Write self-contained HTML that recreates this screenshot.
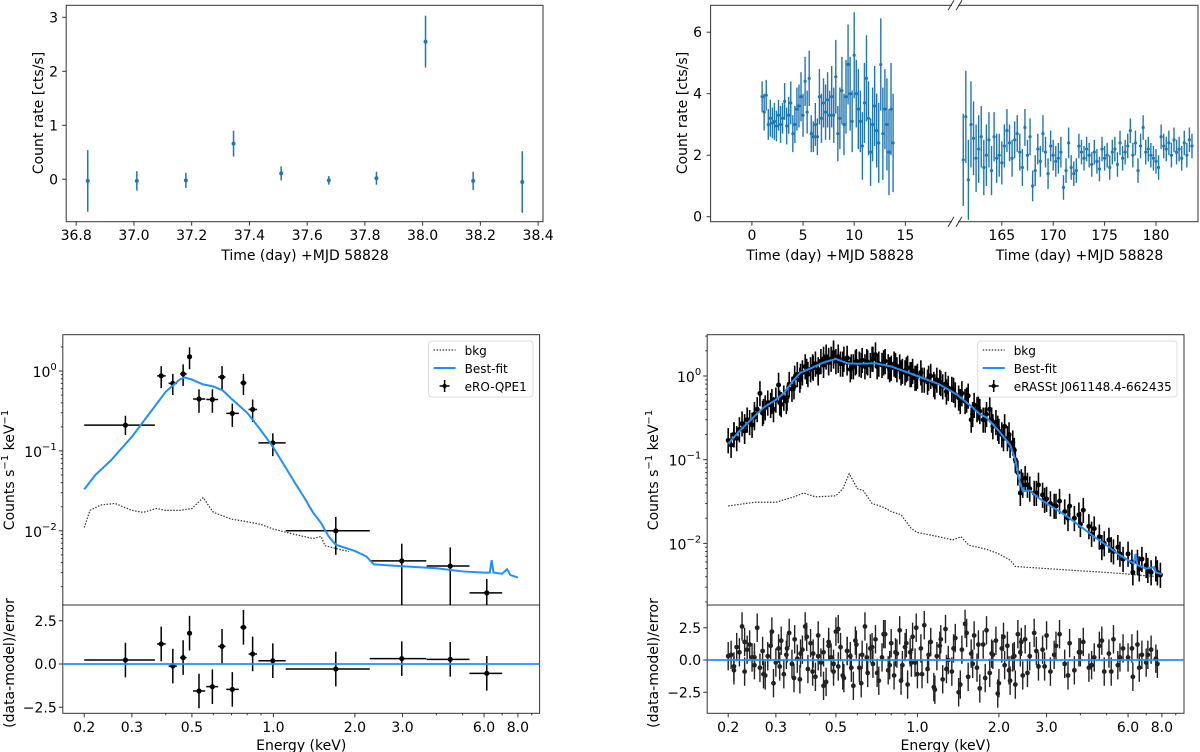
<!DOCTYPE html>
<html><head><meta charset="utf-8"><title>eRO-QPE light curves and spectra</title>
<style>
html,body{margin:0;padding:0;background:#fff;}
svg{display:block;font-family:"DejaVu Sans","Liberation Sans",sans-serif;}
</style></head>
<body>
<svg id="fig" width="1200" height="752" viewBox="0 0 1200 752" xmlns="http://www.w3.org/2000/svg">
<defs>
<clipPath id="clipC"><rect x="62.8" y="334.7" width="476.8" height="270.3"/></clipPath>
<clipPath id="clipD"><rect x="707.2" y="334.7" width="476.8" height="270.3"/></clipPath>
<clipPath id="clipCr"><rect x="62.8" y="605" width="476.8" height="108.3"/></clipPath>
<clipPath id="clipDr"><rect x="707.2" y="605" width="476.8" height="108.3"/></clipPath>
</defs>
</svg>
<script>
// ---------- Panel A data (light curve, eRO-QPE1 flare) ----------
const aTime = [36.84,37.01,37.18,37.345,37.51,37.675,37.84,38.01,38.175,38.345];
const aRate = [-0.03,-0.03,-0.02,0.66,0.11,-0.02,0.02,2.55,-0.03,-0.05];
const aErr  = [0.57,0.18,0.14,0.24,0.13,0.08,0.12,0.48,0.17,0.57];
const aXTicks = [36.8,37.0,37.2,37.4,37.6,37.8,38.0,38.2,38.4];
const aYTicks = [0,1,2,3];

// ---------- Panel B data (long light curve, broken axis) ----------
const bTimeL = [1.0,1.2,1.4,1.6,1.8,2.0,2.2,2.4,2.6,2.8,3.0,3.2,3.4,3.6,3.8,4.0,4.2,4.4,4.6,4.8,5.0,5.2,5.4,5.6,5.8,6.0,6.2,6.4,6.6,6.8,7.0,7.2,7.4,7.6,7.8,8.0,8.2,8.4,8.6,8.8,9.0,9.2,9.4,9.6,9.8,10.0,10.2,10.4,10.6,10.8,11.0,11.2,11.4,11.6,11.8,12.0,12.2,12.4,12.6,12.8,13.0,13.2,13.4,13.6,13.8];
const bRateL = [3.9,3.4,3.95,3.0,3.2,3.05,3.1,2.95,3.3,3.0,3.2,3.75,2.95,3.3,3.7,2.7,3.0,3.5,3.6,3.9,3.3,4.4,3.4,4.5,2.7,2.6,3.0,2.6,3.9,3.2,3.7,3.4,3.8,3.3,3.9,3.3,4.55,2.7,3.2,4.1,3.0,3.9,4.95,4.0,3.1,5.25,4.0,3.5,3.1,2.3,3.7,4.5,3.2,2.1,3.0,3.6,2.8,2.4,4.95,2.7,3.5,3.0,2.1,3.5,2.4];
const bErrL  = [0.5,0.6,0.5,0.5,0.6,0.5,0.6,0.5,0.5,0.6,0.5,0.6,0.6,0.6,0.7,0.6,0.6,0.7,0.7,0.8,0.7,0.8,0.7,0.9,0.6,0.5,0.7,0.6,0.9,0.8,0.8,0.9,0.9,0.8,1.0,0.9,1.2,0.9,1.0,1.1,1.0,1.2,1.3,1.2,1.0,1.4,1.1,1.3,1.0,1.1,1.3,1.4,1.2,1.1,1.2,1.3,1.2,1.3,1.5,1.5,1.3,1.5,1.4,1.5,1.6];
const bTimeR = [161.25,161.5,161.75,162.0,162.25,162.5,162.75,163.0,163.25,163.5,163.75,164.0,164.25,164.5,164.75,165.0,165.25,165.5,165.75,166.0,166.25,166.5,166.75,167.0,167.25,167.5,167.75,168.0,168.25,168.5,168.75,169.0,169.25,169.5,169.75,170.0,170.25,170.5,170.75,171.0,171.25,171.5,171.75,172.0,172.25,172.5,172.75,173.0,173.25,173.5,173.75,174.0,174.25,174.5,174.75,175.0,175.25,175.5,175.75,176.0,176.25,176.5,176.75,177.0,177.25,177.5,177.75,178.0,178.25,178.5,178.75,179.0,179.25,179.5,179.75,180.0,180.25,180.5,180.75,181.0,181.25,181.5,181.75,182.0,182.25,182.5,182.75,183.0,183.25,183.5];
const bRateR = [1.85,3.25,1.2,3.0,2.55,1.9,2.2,2.6,1.6,2.0,2.5,1.5,2.6,1.9,2.0,1.75,2.3,2.8,2.4,1.9,2.5,2.7,2.1,1.6,2.9,2.0,2.6,1.0,1.5,2.2,1.8,2.7,2.1,1.4,2.3,2.0,1.8,1.9,2.1,0.95,1.5,2.4,1.6,1.4,1.5,2.3,2.1,1.9,2.2,2.0,1.7,2.1,1.8,1.55,2.2,1.9,2.0,1.6,2.1,2.2,1.7,2.4,1.9,2.1,2.3,2.8,2.0,2.4,1.5,2.3,2.9,2.1,2.2,2.0,1.9,1.8,1.6,2.6,2.3,2.2,2.4,2.0,2.5,2.1,2.2,1.9,2.4,2.0,2.5,2.3];
const bErrR  = [1.5,1.5,1.3,1.4,1.2,1.1,1.1,1.0,0.9,1.0,0.9,0.8,0.8,0.8,0.7,0.7,0.7,0.7,0.6,0.6,0.6,0.6,0.6,0.6,0.6,0.5,0.6,0.5,0.5,0.5,0.5,0.6,0.5,0.5,0.5,0.5,0.5,0.5,0.5,0.4,0.4,0.5,0.4,0.4,0.4,0.4,0.4,0.4,0.4,0.4,0.4,0.4,0.4,0.4,0.4,0.4,0.4,0.4,0.4,0.4,0.4,0.4,0.4,0.4,0.4,0.4,0.4,0.4,0.4,0.4,0.4,0.4,0.4,0.4,0.4,0.4,0.4,0.4,0.4,0.4,0.4,0.4,0.4,0.4,0.4,0.4,0.4,0.4,0.4,0.4];
const bXTicksL = [0,5,10,15];
const bXTicksR = [165,170,175,180];
const bYTicks = [0,2,4,6];

// ---------- Panel C data (eRO-QPE1 spectrum) ----------
const cE    = [0.284,0.385,0.425,0.464,0.49,0.531,0.595,0.646,0.705,0.775,0.838,0.995,1.70,2.98,4.5,6.14];
const cElo  = [0.2,0.372,0.41,0.452,0.48,0.505,0.565,0.625,0.67,0.755,0.81,0.88,1.11,2.27,3.68,5.3];
const cEhi  = [0.365,0.40,0.44,0.478,0.50,0.56,0.625,0.665,0.745,0.795,0.87,1.11,2.27,3.67,5.3,7.0];
const cVal  = [0.21,0.87,0.70,0.92,1.51,0.446,0.44,0.84,0.295,0.71,0.33,0.126,0.010,0.0042,0.00362,0.00167];
const cVlo  = [0.158,0.61,0.50,0.65,1.05,0.30,0.30,0.58,0.20,0.50,0.23,0.086,0.0050,0.0008,0.0008,0.0008];
const cVhi  = [0.275,1.15,0.92,1.21,1.98,0.59,0.59,1.15,0.39,0.92,0.44,0.166,0.0149,0.0069,0.0062,0.0025];
const cRes  = [0.23,1.16,-0.12,0.37,1.78,-1.56,-1.31,1.02,-1.47,2.12,0.58,0.19,-0.29,0.31,0.27,-0.54];
const cFitE = [0.2,0.22,0.25,0.3,0.35,0.4,0.45,0.47,0.5,0.55,0.6,0.65,0.7,0.8,0.9,1.0,1.1,1.2,1.3,1.4,1.5,1.6,1.7,2.0,2.2,2.35,3,4,5,6,6.3,6.4,6.5,7,7.3,7.5,8];
const cFitV = [0.033,0.05,0.075,0.15,0.3,0.55,0.78,0.83,0.78,0.68,0.64,0.57,0.45,0.3,0.18,0.11,0.065,0.04,0.026,0.017,0.0125,0.0085,0.0067,0.0056,0.0048,0.0038,0.0036,0.0034,0.0031,0.0030,0.0030,0.0043,0.0030,0.0029,0.0033,0.0028,0.0026];
const cBkgE = [0.2,0.21,0.23,0.26,0.3,0.33,0.37,0.4,0.45,0.5,0.55,0.6,0.7,0.8,0.9,1.0,1.2,1.4,1.5,1.55,1.7,1.9];
const cBkgV = [0.011,0.018,0.021,0.022,0.018,0.017,0.019,0.018,0.018,0.019,0.026,0.017,0.014,0.013,0.012,0.0105,0.009,0.008,0.0085,0.0065,0.006,0.0055];

// ---------- Panel D data (eRASSt J061148.4-662435 spectrum) ----------
const dE = [0.20,0.205,0.21,0.215,0.22,0.225,0.23,0.235,0.24,0.245,0.25,0.256,0.262,0.268,0.274,0.28,0.287,0.294,0.30,0.307,0.314,0.321,0.328,0.336,0.344,0.352,0.36,0.368,0.376,0.385,0.394,0.403,0.412,0.42,0.43,0.44,0.45,0.46,0.47,0.48,0.49,0.50,0.51,0.52,0.535,0.55,0.565,0.58,0.595,0.61,0.625,0.64,0.655,0.67,0.685,0.70,0.72,0.74,0.76,0.78,0.80,0.82,0.84,0.86,0.88,0.90,0.92,0.94,0.96,0.98,1.0,1.03,1.06,1.09,1.12,1.15,1.18,1.21,1.24,1.27,1.30,1.34,1.38,1.42,1.46,1.50,1.54,1.58,1.62,1.66,1.70,1.75,1.80,1.85,1.90,1.95,2.0,2.05,2.1,2.15,2.2,2.25,2.3,2.35,2.4,2.45,2.5,2.6,2.7,2.8,2.9,3.0,3.1,3.2,3.35,3.5,3.65,3.8,3.95,4.1,4.3,4.5,4.7,4.9,5.1,5.3,5.5,5.75,6.0,6.25,6.5,6.75,7.0,7.3,7.6,7.9];
const dVal = [0.17,0.15,0.2,0.18,0.23,0.27,0.22,0.3,0.28,0.26,0.35,0.4,0.62,0.36,0.42,0.48,0.45,0.4,0.52,0.78,0.46,0.55,0.5,0.8,0.7,0.95,1.05,0.9,1.1,1.3,1.05,1.2,1.25,1.4,1.1,1.5,1.35,1.7,1.55,1.6,1.9,1.5,1.7,1.4,1.6,1.45,1.2,1.3,1.5,1.4,1.55,1.3,1.45,1.35,1.6,1.8,1.4,1.35,1.5,1.3,1.25,1.4,1.2,1.3,1.15,1.1,1.25,1.05,1.15,0.95,1.0,1.1,0.9,0.85,1.0,0.8,0.9,0.85,0.75,0.8,0.72,0.7,0.6,0.55,0.62,0.5,0.58,0.3,0.45,0.4,0.38,0.3,0.35,0.4,0.25,0.28,0.22,0.2,0.25,0.18,0.15,0.16,0.1,0.07,0.04,0.05,0.06,0.045,0.04,0.05,0.038,0.034,0.03,0.028,0.032,0.024,0.028,0.02,0.022,0.025,0.016,0.015,0.012,0.01,0.011,0.008,0.009,0.0065,0.0075,0.0045,0.006,0.0065,0.0055,0.0045,0.005,0.0042];
const dRes = [0.3,0.4,-0.5,1.0,0.6,2.6,-0.9,0.8,1.2,0.2,-0.4,2.5,-0.6,0.7,-1.2,0.3,1.1,-1.8,-0.2,0.9,1.5,-1.1,0.4,2.1,-0.3,1.6,0.1,-1.5,0.8,2.6,-0.7,1.3,0.5,-1.3,1.9,-0.2,0.6,-1.7,1.4,0.2,-0.9,2.2,-0.5,1.0,-1.4,0.7,0.3,-2.0,1.2,-0.6,0.4,2.6,-1.0,0.9,-0.3,1.6,-1.6,0.2,2.0,-0.8,1.3,-1.2,0.5,2.3,-0.4,1.0,-1.9,0.6,1.8,-0.2,-1.1,0.9,2.7,-0.7,1.4,-2.1,0.3,1.1,-1.5,2.4,0.0,-0.9,1.7,-2.5,0.8,2.8,-1.3,0.5,1.9,-0.6,-2.2,1.2,2.3,-1.0,0.4,1.5,-1.8,0.9,-0.4,1.1,-1.6,0.2,-1.9,2.0,0.6,-1.2,1.6,0.3,2.1,-0.5,0.8,1.9,-0.9,0.4,2.0,-0.3,1.3,-0.8,0.6,1.4,-0.6,0.2,1.1,-0.9,0.5,1.6,-0.4,0.9,0.2,-1.3,1.2,0.4,-0.2,0.8,0.1];
const dE2 = [0.21,0.23,0.25,0.27,0.29,0.31,0.33,0.35,0.37,0.39,0.41,0.43,0.45,0.47,0.49,0.51,0.53,0.55,0.57,0.59,0.62,0.65,0.68,0.71,0.75,0.79,0.83,0.87,0.91,0.95,0.99,1.04,1.1,1.16,1.22,1.28,1.36,1.44,1.52,1.6,1.68,1.78,1.88,1.98,2.08,2.18,2.28,2.42,2.55,2.75,2.95,3.25,3.6,4.0,4.4,4.8,5.2,5.6,6.2,6.6,7.1,7.7];
const dVal2 = [0.2,0.25,0.32,0.38,0.5,0.48,0.55,0.75,1.0,1.15,1.3,1.2,1.6,1.45,1.75,1.55,1.4,1.65,1.3,1.45,1.35,1.5,1.6,1.3,1.45,1.2,1.35,1.1,1.2,1.05,0.95,0.9,0.95,0.75,0.82,0.65,0.68,0.5,0.52,0.35,0.42,0.3,0.3,0.24,0.18,0.2,0.13,0.055,0.05,0.04,0.033,0.028,0.02,0.017,0.013,0.009,0.0085,0.0075,0.006,0.005,0.0048,0.0045];
const dRes2 = [-0.8,1.4,0.2,-1.1,2.2,-0.5,0.9,-1.4,0.5,1.8,-0.9,0.3,-2.0,1.1,-0.3,2.4,-1.2,0.7,-0.6,1.5,-1.8,0.2,1.0,-1.0,2.0,-0.4,0.6,-1.6,1.3,-0.2,2.5,-1.1,0.4,-2.3,1.6,-0.7,0.9,-1.9,2.1,-0.3,1.2,-1.4,0.5,-2.6,1.8,-0.8,0.3,1.4,-1.0,0.7,-0.5,1.1,-1.2,0.6,-0.4,1.5,-0.9,0.2,0.9,-0.6,0.4,-0.3];
const dFitE = [0.2,0.22,0.25,0.27,0.3,0.32,0.35,0.37,0.4,0.45,0.5,0.55,0.6,0.7,0.8,1.0,1.2,1.4,1.6,1.7,1.8,2.0,2.2,2.3,2.37,2.45,2.6,2.8,3.0,3.5,4.0,4.5,5.0,5.5,6.0,6.3,6.4,6.5,7.0,7.5,7.6,8.0];
const dFitV = [0.155,0.22,0.33,0.42,0.52,0.62,0.9,1.1,1.22,1.45,1.6,1.42,1.4,1.42,1.3,1.0,0.8,0.6,0.42,0.35,0.32,0.22,0.15,0.1,0.06,0.042,0.043,0.035,0.03,0.022,0.016,0.012,0.0095,0.0075,0.0063,0.0058,0.0075,0.0055,0.005,0.0052,0.0045,0.0043];
const dBkgE = [0.2,0.25,0.3,0.35,0.38,0.42,0.5,0.53,0.56,0.6,0.63,0.68,0.75,0.8,0.87,0.95,1.0,1.2,1.35,1.45,1.55,1.8,2.0,2.2,2.3,3.0,4,5,6,7,8];
const dBkgV = [0.028,0.031,0.031,0.036,0.040,0.036,0.037,0.045,0.068,0.045,0.043,0.03,0.027,0.024,0.022,0.015,0.0135,0.012,0.011,0.012,0.0095,0.0085,0.0075,0.0063,0.0053,0.0050,0.0047,0.0045,0.0043,0.0041,0.0040];

const eTicks = [0.2,0.3,0.5,1.0,2.0,3.0,6.0,8.0];
const eMinor = [0.4,0.6,0.7,0.8,0.9,4,5,7,9];
const resTicks = [-2.5,0.0,2.5];
const decTicks = [-2,-1,0];

// ---------- helpers ----------
const NS = 'http://www.w3.org/2000/svg';
const fig = document.getElementById('fig');
function mk(tag, attrs, parent){
  const e = document.createElementNS(NS, tag);
  for (const k in attrs) e.setAttribute(k, attrs[k]);
  (parent || fig).appendChild(e);
  return e;
}
function grp(name){
  const g = mk('g', {});
  
  
  return g;
}
function txt(parent, x, y, s, anchor, size, name, rot){
  const t = mk('text', {x:x, y:y, 'text-anchor':anchor||'middle', 'font-size':size||14, fill:'#000'}, parent);
  if (rot) t.setAttribute('transform', 'rotate(-90 '+x+' '+y+')');
  t.textContent = s;
  
  
  return t;
}
function pow10(parent, x, y, exp, name){
  const t = mk('text', {x:x, y:y, 'text-anchor':'end', 'font-size':14, fill:'#000'}, parent);
  
  
  t.appendChild(document.createTextNode('10'));
  const s = mk('tspan', {dy:-7, 'font-size':10}, t);
  s.textContent = exp === 0 ? '0' : '\u2212' + (-exp);
  return t;
}
function frame(parent, x, y, w, h, name){
  const r = mk('rect', {x:x, y:y, width:w, height:h, fill:'none', stroke:'#333', 'stroke-width':1}, parent);
  
  
}
function tickX(parent, x, yb, len){
  const l = mk('line', {x1:x, x2:x, y1:yb, y2:yb+len, stroke:'#333', 'stroke-width':1}, parent);
  
  
}
function tickY(parent, xl, y, len){
  const l = mk('line', {x1:xl-len, x2:xl, y1:y, y2:y, stroke:'#333', 'stroke-width':1}, parent);
  
  
}
function errbar(parent, x, y, x1, x2, y1, y2, color, w, r, name){
  if (x1 !== x2) {
    const h = mk('line', {x1:x1, x2:x2, y1:y, y2:y, stroke:color, 'stroke-width':w}, parent);
    
    
  }
  const v = mk('line', {x1:x, x2:x, y1:y1, y2:y2, stroke:color, 'stroke-width':w}, parent);
  
  
  const c = mk('circle', {cx:x, cy:y, r:r, fill:color}, parent);
  
  
}
function polyline(parent, xs, ys, fx, fy, attrs, name){
  const pts = xs.map((v,i)=> fx(v).toFixed(2)+','+fy(ys[i]).toFixed(2)).join(' ');
  const p = mk('polyline', Object.assign({points:pts, fill:'none'}, attrs), parent);
  
  
  return p;
}
const L10 = Math.log10;

// ---------- Panel A ----------
(function(){
  const g = grp('panel-a-light-curve');
  const xA = t => 76.2 + (t - 36.8) * 288.7;
  const yA = v => 179.3 - v * 54;
  frame(g, 66.2, 5.3, 476.8, 216.4, 'panel-a-frame');
  aXTicks.forEach(t => { tickX(g, xA(t), 221.7, 4); txt(g, xA(t), 240, t.toFixed(1), 'middle', 14, 'x-tick-label'); });
  aYTicks.forEach(v => { tickY(g, 66.2, yA(v), 4); txt(g, 58, yA(v)+5, String(v), 'end', 14, 'y-tick-label'); });
  txt(g, 305, 260, 'Time (day) +MJD 58828', 'middle', 14, 'x-axis-title');
  txt(g, 43, 113, 'Count rate [cts/s]', 'middle', 14, 'y-axis-title', true);
  aTime.forEach((t,i) => errbar(g, xA(t), yA(aRate[i]), xA(t), xA(t), yA(aRate[i]-aErr[i]), yA(aRate[i]+aErr[i]), '#1f77b4', 1.5, 2, 'data-point'));
})();

// ---------- Panel B ----------
(function(){
  const g = grp('panel-b-long-light-curve');
  const xL = t => 751.9 + t * 10.23;
  const xR = t => 1001.8 + (t - 165) * 10.28;
  const yB = v => 216.7 - v * 30.75;
  frame(g, 710.6, 5.3, 487.4, 216.4, 'panel-b-frame');
  [5.3, 221.7].forEach(yy => {
    [-4, 4].forEach(dx => {
      const l = mk('line', {x1:955+dx-3, y1:yy+5, x2:955+dx+3, y2:yy-5, stroke:'#333', 'stroke-width':1}, g);
      
      
    });
    const w = mk('rect', {x:952, y:yy-0.8, width:6, height:1.6, fill:'#fff'}, g);
    
    
  });
  bXTicksL.forEach(t => { tickX(g, xL(t), 221.7, 4); txt(g, xL(t), 240, String(t), 'middle', 14, 'x-tick-label-left'); });
  bXTicksR.forEach(t => { tickX(g, xR(t), 221.7, 4); txt(g, xR(t), 240, String(t), 'middle', 14, 'x-tick-label-right'); });
  bYTicks.forEach(v => { tickY(g, 710.6, yB(v), 4); txt(g, 702, yB(v)+5, String(v), 'end', 14, 'y-tick-label'); });
  txt(g, 830, 260, 'Time (day) +MJD 58828', 'middle', 14, 'x-axis-title-left');
  txt(g, 1079.5, 260, 'Time (day) +MJD 58828', 'middle', 14, 'x-axis-title-right');
  txt(g, 687, 113, 'Count rate [cts/s]', 'middle', 14, 'y-axis-title', true);
  bTimeL.forEach((t,i) => errbar(g, xL(t), yB(bRateL[i]), xL(t), xL(t), yB(bRateL[i]-bErrL[i]), yB(bRateL[i]+bErrL[i]), '#1f77b4', 1.4, 1.6, 'data-point-early'));
  const n = Math.min(bTimeR.length, bRateR.length, bErrR.length);
  for (let i=0;i<n;i++){
    const t = bTimeR[i];
    errbar(g, xR(t), yB(bRateR[i]), xR(t), xR(t), yB(bRateR[i]-bErrR[i]), yB(bRateR[i]+bErrR[i]), '#1f77b4', 1.4, 1.6, 'data-point-late');
  }
})();

// ---------- spectrum panel builder ----------
function spectrum(opt){
  const g = grp(opt.name);
  const X0 = opt.x0, W = 476.8;
  const xE = E => opt.xe0 + L10(E/0.2) * 270.7;
  const yV = v => opt.y1 - L10(v) * opt.dec;
  const yR = r => opt.r0 - r * opt.rs;
  frame(g, X0, 334.7, W, 270.3, opt.name + '-main-frame');
  frame(g, X0, 605, W, 108.3, opt.name + '-residual-frame');
  eTicks.forEach(E => { tickX(g, xE(E), 713.3, 4); txt(g, xE(E), 732, E.toFixed(1), 'middle', 14, 'x-tick-label'); });
  eMinor.forEach(E => tickX(g, xE(E), 713.3, 2));
  decTicks.forEach(d => { tickY(g, X0, yV(Math.pow(10,d)), 4); pow10(g, X0-6, yV(Math.pow(10,d))+6, d, 'y-tick-label'); });
  for (let d=-3; d<=0; d++) for (let m=2; m<=9; m++){
    const y = yV(m*Math.pow(10,d));
    if (y > 334.7 && y < 605) tickY(g, X0, y, 2);
  }
  resTicks.forEach(r => { tickY(g, X0, yR(r), 4); txt(g, X0-6, yR(r)+5, r===0?'0.0':(r>0?'2.5':'\u22122.5'), 'end', 14, 'residual-tick-label'); });
  txt(g, X0 + W/2, 750, 'Energy (keV)', 'middle', 14, 'x-axis-title');
  const yl = mk('text', {x:opt.ylx, y:470, 'text-anchor':'middle', 'font-size':14, fill:'#000', transform:'rotate(-90 '+opt.ylx+' 470)'}, g);
  
  
  yl.appendChild(document.createTextNode('Counts s'));
  const s1 = mk('tspan', {dy:-6, 'font-size':10}, yl); s1.textContent = '\u22121';
  const s2 = mk('tspan', {dy:6}, yl); s2.textContent = ' keV';
  const s3 = mk('tspan', {dy:-6, 'font-size':10}, yl); s3.textContent = '\u22121';
  txt(g, opt.ylx, 663, '(data-model)/error', 'middle', 14, 'residual-axis-title', true);
  const gm = mk('g', {'clip-path':'url(#'+opt.clip+')'}, g);
  
  
  polyline(gm, opt.bkgE, opt.bkgV, xE, yV, {stroke:'#333', 'stroke-width':1.2, 'stroke-dasharray':'1.5,1.5'}, 'bkg-line');
  opt.points(gm, xE, yV);
  polyline(gm, opt.fitE, opt.fitV, xE, yV, {stroke:'#1e90ff', 'stroke-width':2}, 'best-fit-line');
  const gr = mk('g', {'clip-path':'url(#'+opt.clipr+')'}, g);
  
  
  opt.resid(gr, xE, yR);
  const zl = mk('line', {x1:X0, x2:X0+W, y1:yR(0), y2:yR(0), stroke:'#1e90ff', 'stroke-width':1.8}, gr);
  
  
  const lg = mk('g', {}, g);
  
  
  const lx = opt.lx, lw = opt.lw;
  const box = mk('rect', {x:lx, y:341, width:lw, height:56, rx:3, fill:'#fff', 'fill-opacity':0.8, stroke:'#ddd'}, lg);
  
  
  const l1 = mk('line', {x1:lx+5, x2:lx+27, y1:350, y2:350, stroke:'#333', 'stroke-width':1.2, 'stroke-dasharray':'1.5,1.5'}, lg);
  
  
  txt(lg, lx+36, 355, 'bkg', 'start', 12, 'legend-entry-bkg');
  const l2 = mk('line', {x1:lx+5, x2:lx+27, y1:368, y2:368, stroke:'#1e90ff', 'stroke-width':2}, lg);
  
  
  txt(lg, lx+36, 373, 'Best-fit', 'start', 12, 'legend-entry-best-fit');
  errbar(lg, lx+16, 386, lx+11, lx+21, 380, 392, '#000', 1.5, 2.2, 'legend-entry-data-marker');
  txt(lg, lx+36, 391, opt.label, 'start', 12, 'legend-entry-data');
}

spectrum({
  name:'panel-c-ero-qpe1-spectrum', x0:62.8, xe0:84.2, y1:371, dec:79.9, r0:664, rs:17.3,
  clip:'clipC', clipr:'clipCr', ylx:14, lx:428.6, lw:104.4, label:'eRO-QPE1',
  bkgE:cBkgE, bkgV:cBkgV, fitE:cFitE, fitV:cFitV,
  points:(gm, xE, yV) => cE.forEach((E,i) => errbar(gm, xE(E), yV(cVal[i]), xE(cElo[i]), xE(cEhi[i]), yV(cVlo[i]), yV(cVhi[i]), '#000', 1.5, 2.6, 'spectral-bin')),
  resid:(gr, xE, yR) => cE.forEach((E,i) => errbar(gr, xE(E), yR(cRes[i]), xE(cElo[i]), xE(cEhi[i]), yR(cRes[i]-1), yR(cRes[i]+1), '#000', 1.5, 2.6, 'residual-bin'))
});

function dPoints(gm, xE, yV, es, vs){
  const n = Math.min(es.length, vs.length);
  for (let i=0;i<n;i++){
    const E = es[i], v = vs[i];
    errbar(gm, xE(E), yV(v), xE(E*0.985), xE(E*1.015), yV(v*0.7), yV(v*1.4), '#000', 1.6, 2.5, 'spectral-bin');
  }
}
function dResid(gr, xE, yR, es, rs){
  const n = Math.min(es.length, rs.length);
  for (let i=0;i<n;i++){
    const E = es[i], r = rs[i];
    errbar(gr, xE(E), yR(r), xE(E*0.985), xE(E*1.015), yR(r-1.1), yR(r+1.1), '#222', 1.4, 2.4, 'residual-bin');
  }
}

spectrum({
  name:'panel-d-erasst-spectrum', x0:707.2, xe0:728.2, y1:376, dec:83.7, r0:660, rs:12.9,
  clip:'clipD', clipr:'clipDr', ylx:658, lx:977.7, lw:199.3, label:'eRASSt J061148.4-662435',
  bkgE:dBkgE, bkgV:dBkgV, fitE:dFitE, fitV:dFitV,
  points:(gm, xE, yV) => { dPoints(gm, xE, yV, dE, dVal); dPoints(gm, xE, yV, dE2, dVal2); },
  resid:(gr, xE, yR) => { dResid(gr, xE, yR, dE, dRes); dResid(gr, xE, yR, dE2, dRes2); }
});
</script>
</body></html>
